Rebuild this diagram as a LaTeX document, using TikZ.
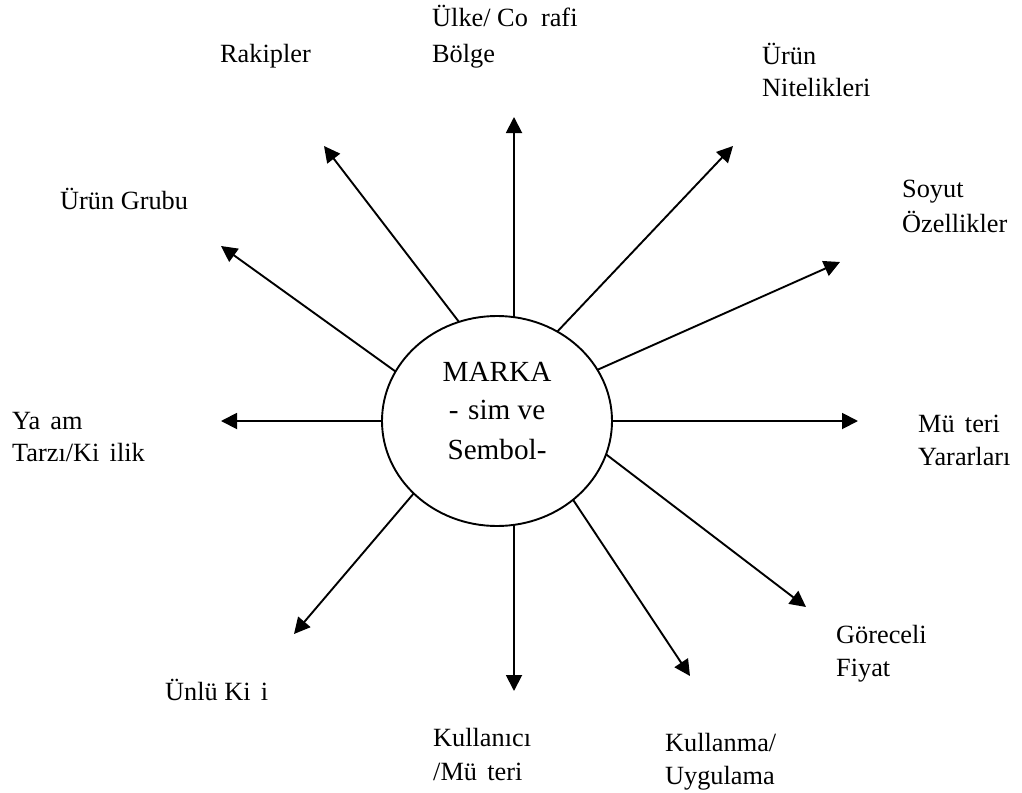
\documentclass[tikz,border=0pt]{standalone}
\usepackage{fontspec}
\setmainfont{Liberation Serif}
\usetikzlibrary{arrows.meta,shapes.geometric}
\begin{document}
\begin{tikzpicture}[x=1pt,y=-1pt,
  lbl/.style={anchor=base west,inner sep=0pt,font=\fontsize{26.3}{33}\selectfont},
  ctr/.style={anchor=base,inner sep=0pt,font=\fontsize{29.2}{39}\selectfont},
  arr/.style={line width=1.9pt,-{Triangle[length=16pt,width=16pt]}}]
\useasboundingbox (0,0) rectangle (1022,792);

% central brand ellipse
\node[draw,line width=1.9pt,ellipse,minimum width=230pt,minimum height=210pt,
      inner sep=0pt,outer sep=0pt] (M) at (497,421) {};
\node[ctr] (c1) at (497,381) {MARKA};
\node[ctr] (c2) at (497,419) {-\hspace{0.33em}sim ve};
\node[ctr] (c3) at (497,459) {Sembol-};

% arrow tips
\coordinate (tU)  at (514,117);
\coordinate (tR)  at (324,146);
\coordinate (tG)  at (221,246);
\coordinate (tL)  at (221,421);
\coordinate (tUK) at (294,634);
\coordinate (tD)  at (514,691);
\coordinate (tK)  at (690,676);
\coordinate (tGF) at (806,607);
\coordinate (tRt) at (858,421);
\coordinate (tS)  at (840,262);
\coordinate (tN)  at (733,146);

% radiating arrows
\draw[arr] (tU |- M.80.9) -- (tU);
\draw[arr] (M.111.8) -- (tR);
\draw[arr] (M.154.6) -- (tG);
\draw[arr] (M.180) -- (tL);
\draw[arr] (M.221.2) -- (tUK);
\draw[arr] (tD |- M.279.4) -- (tD);
\draw[arr] (M.314.6) -- (tK);
\draw[arr] (M.343.1) -- (tGF);
\draw[arr] (M.0) -- (tRt);
\draw[arr] (M.27.3) -- (tS);
\draw[arr] (M.56.9) -- (tN);

% labels
\node[lbl] (rak) at (220,63) {Rakipler};
\node[lbl] (ulk1) at (432,27) {Ülke/ Co\hspace{0.5em}rafi};
\node[lbl] (ulk2) at (432,63) {Bölge};
\node[lbl] (nit1) at (762,64) {Ürün};
\node[lbl] (nit2) at (762,96) {Nitelikleri};
\node[lbl] (grp) at (60,209) {Ürün Grubu};
\node[lbl] (soy1) at (902,197) {Soyut};
\node[lbl] (soy2) at (902,232) {Özellikler};
\node[lbl] (yas1) at (12,429) {Ya\hspace{0.39em}am};
\node[lbl] (yas2) at (12,461) {Tarzı/Ki\hspace{0.39em}ilik};
\node[lbl] (mus1) at (918,432) {Mü\hspace{0.39em}teri};
\node[lbl] (mus2) at (918,465) {Yararları};
\node[lbl] (gor1) at (836,643) {Göreceli};
\node[lbl] (gor2) at (836,676) {Fiyat};
\node[lbl] (unl) at (165,700) {Ünlü Ki\hspace{0.39em}i};
\node[lbl] (kul1) at (433,746) {Kullanıcı};
\node[lbl] (kul2) at (433,780) {/Mü\hspace{0.39em}teri};
\node[lbl] (uyg1) at (665,751) {Kullanma/};
\node[lbl] (uyg2) at (665,784) {Uygulama};
\end{tikzpicture}
\end{document}
